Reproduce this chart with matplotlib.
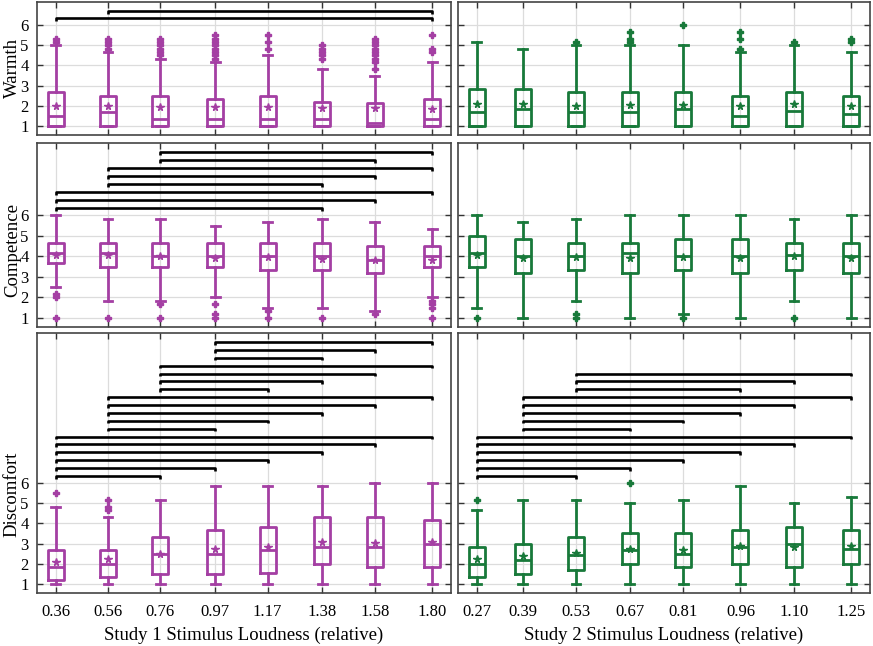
import numpy as np
import matplotlib
matplotlib.use('Agg')
import matplotlib.pyplot as plt

plt.rcParams['font.family'] = ['Liberation Serif', 'DejaVu Serif']

# stimulus loudness levels
study1_x = [0.36, 0.56, 0.76, 0.97, 1.17, 1.38, 1.58, 1.80]
study2_x = [0.27, 0.39, 0.53, 0.67, 0.81, 0.96, 1.10, 1.25]

# box summaries: (whisker low, q1, median, q3, whisker high)
warmth1_box = [(1, 1, 1.5, 2.67, 5.0), (1, 1, 1.67, 2.5, 4.67), (1, 1, 1.33, 2.47, 4.33),
               (1, 1, 1.33, 2.33, 4.17), (1, 1, 1.33, 2.47, 4.5), (1, 1, 1.33, 2.17, 3.83),
               (1, 1, 1.17, 2.13, 3.5), (1, 1, 1.33, 2.33, 4.17)]
warmth1_mean = [2.0, 2.0, 1.93, 1.93, 1.92, 1.89, 1.89, 1.85]
warmth1_fliers = [[5.17, 5.33], [4.83, 5.0, 5.17, 5.33], [4.5, 4.67, 4.83, 5.0, 5.17, 5.33],
                  [4.33, 4.5, 4.67, 4.83, 5.0, 5.17, 5.33, 5.5], [4.83, 5.17, 5.5],
                  [4.33, 4.5, 4.67, 4.83, 5.0],
                  [3.83, 4.17, 4.33, 4.5, 4.67, 4.83, 5.0, 5.17, 5.33], [4.67, 4.83, 5.5]]

warmth2_box = [(1, 1, 1.67, 2.83, 5.17), (1, 1, 1.83, 2.83, 4.83), (1, 1, 1.67, 2.67, 5.0),
               (1, 1, 1.67, 2.67, 5.0), (1, 1, 1.83, 2.67, 5.0), (1, 1, 1.5, 2.5, 4.67),
               (1, 1, 1.75, 2.67, 5.0), (1, 1, 1.58, 2.5, 4.67)]
warmth2_mean = [2.08, 2.08, 2.0, 2.03, 2.04, 2.0, 2.08, 2.0]
warmth2_fliers = [[], [], [5.17], [5.17, 5.33, 5.67], [6.0], [4.83, 5.33, 5.67], [5.17], [5.17, 5.33]]

competence1_box = [(2.5, 3.67, 4.17, 4.63, 6.0), (1.83, 3.5, 4.17, 4.67, 5.83),
                   (1.83, 3.5, 4.03, 4.67, 5.83), (2.0, 3.5, 4.0, 4.63, 5.5),
                   (1.5, 3.35, 4.0, 4.67, 5.67), (1.5, 3.33, 4.0, 4.67, 5.83),
                   (1.33, 3.2, 3.83, 4.5, 5.67), (2.0, 3.5, 4.0, 4.5, 5.33)]
competence1_mean = [4.08, 4.05, 4.02, 3.93, 3.98, 3.87, 3.82, 3.82]
competence1_fliers = [[2.0, 2.17, 1.0], [1.0], [1.67, 1.0], [1.67, 1.17, 1.0], [1.33, 1.0],
                      [1.0], [1.17], [1.83, 1.67, 1.5, 1.0]]

competence2_box = [(1.5, 3.5, 4.17, 5.0, 6.0), (1.0, 3.17, 4.0, 4.83, 5.67),
                   (1.83, 3.33, 4.0, 4.67, 5.83), (1.0, 3.17, 4.17, 4.67, 6.0),
                   (1.17, 3.33, 4.0, 4.83, 6.0), (1.0, 3.17, 4.0, 4.83, 6.0),
                   (1.83, 3.33, 4.08, 4.67, 5.83), (1.0, 3.17, 4.0, 4.67, 6.0)]
competence2_mean = [4.05, 3.93, 3.97, 3.93, 3.97, 3.9, 4.02, 3.9]
competence2_fliers = [[1.0], [], [1.17, 1.0], [], [1.0], [], [1.0], []]

discomfort1_box = [(1.0, 1.17, 1.83, 2.67, 4.83), (1.0, 1.33, 2.0, 2.67, 4.33),
                   (1.0, 1.5, 2.5, 3.33, 5.17), (1.0, 1.5, 2.5, 3.67, 5.83),
                   (1.0, 1.56, 2.67, 3.83, 5.83), (1.0, 2.0, 2.83, 4.33, 5.83),
                   (1.0, 1.83, 2.83, 4.33, 6.0), (1.0, 1.83, 3.0, 4.17, 6.0)]
discomfort1_mean = [2.08, 2.25, 2.49, 2.72, 2.83, 3.08, 3.04, 3.08]
discomfort1_fliers = [[5.5], [4.67, 4.83, 5.17], [], [], [], [], [], []]

discomfort2_box = [(1.0, 1.33, 2.0, 2.83, 4.67), (1.0, 1.5, 2.17, 3.0, 5.17),
                   (1.0, 1.67, 2.42, 3.33, 5.17), (1.0, 2.0, 2.67, 3.5, 5.0),
                   (1.0, 1.83, 2.5, 3.5, 5.17), (1.0, 2.0, 2.83, 3.67, 5.83),
                   (1.0, 1.83, 3.0, 3.83, 5.0), (1.0, 2.0, 2.75, 3.67, 5.33)]
discomfort2_mean = [2.21, 2.37, 2.55, 2.72, 2.68, 2.88, 2.83, 2.86]
discomfort2_fliers = [[5.17], [], [], [6.0], [], [], [], []]

# significant pairs (indices into the loudness levels)
warmth1_pairs = [(0, 7), (1, 7)]
warmth2_pairs = []
competence1_pairs = [(0, 5), (0, 6), (0, 7), (1, 5), (1, 6), (1, 7), (2, 6), (2, 7)]
competence2_pairs = []
discomfort1_pairs = [(0, 2), (0, 3), (0, 4), (0, 5), (0, 6), (0, 7), (1, 3), (1, 4), (1, 5),
                     (1, 6), (1, 7), (2, 4), (2, 5), (2, 6), (2, 7), (3, 5), (3, 6), (3, 7)]
discomfort2_pairs = [(0, 2), (0, 3), (0, 4), (0, 5), (0, 6), (0, 7), (1, 3), (1, 4), (1, 5),
                     (1, 6), (1, 7), (2, 5), (2, 6), (2, 7)]

row_labels = ['Warmth', 'Competence', 'Discomfort']
xlabels = ['Study 1 Stimulus Loudness (relative)', 'Study 2 Stimulus Loudness (relative)']

purple = '#a43fa3'
green = '#18793a'

rows = [
    [(warmth1_box, warmth1_mean, warmth1_fliers, warmth1_pairs),
     (warmth2_box, warmth2_mean, warmth2_fliers, warmth2_pairs)],
    [(competence1_box, competence1_mean, competence1_fliers, competence1_pairs),
     (competence2_box, competence2_mean, competence2_fliers, competence2_pairs)],
    [(discomfort1_box, discomfort1_mean, discomfort1_fliers, discomfort1_pairs),
     (discomfort2_box, discomfort2_mean, discomfort2_fliers, discomfort2_pairs)],
]
bracket_step = [0.35, 0.39, 0.39]
ylabel_ypos = [0.5, 0.42, 0.38]

W, H = 873, 646
fig = plt.figure(figsize=(W / 100, H / 100), dpi=100)
col_px = [(37, 451), (458, 870)]
row_px = [(2, 135), (143, 327), (333, 593)]

for r in range(3):
    n_pairs = max(len(rows[r][0][3]), len(rows[r][1][3]))
    ytop = 6.35 + (n_pairs - 1) * bracket_step[r] + 0.45
    for c in range(2):
        box, mean, fliers, pairs = rows[r][c]
        xs = study1_x if c == 0 else study2_x
        color = purple if c == 0 else green
        x0, x1 = col_px[c]
        y0, y1 = row_px[r]
        ax = fig.add_axes([x0 / W, 1 - y1 / H, (x1 - x0) / W, (y1 - y0) / H])
        span = xs[-1] - xs[0]
        width = 16 / (x1 - x0) * (span * 1.1)
        stats = []
        for b, m, f in zip(box, mean, fliers):
            stats.append(dict(whislo=b[0], q1=b[1], med=b[2], q3=b[3], whishi=b[4],
                              mean=m, fliers=f))
        ax.bxp(stats, positions=xs, widths=width, capwidths=width * 0.55,
               showmeans=True, manage_ticks=False,
               boxprops=dict(color=color, lw=2),
               whiskerprops=dict(color=color, lw=2),
               capprops=dict(color=color, lw=2),
               medianprops=dict(color=color, lw=2),
               meanprops=dict(marker='*', markerfacecolor=color, markeredgecolor=color,
                              markersize=5.5),
               flierprops=dict(marker='P', markerfacecolor=color, markeredgecolor=color,
                               markersize=5))
        tick_h = 0.13
        for k, (i, j) in enumerate(pairs):
            yb = 6.35 + k * bracket_step[r]
            ax.plot([xs[i], xs[i], xs[j], xs[j]], [yb - tick_h, yb, yb, yb - tick_h],
                    color='black', lw=1.9, solid_capstyle='butt')
        ax.set_xlim(xs[0] - 0.05 * span, xs[-1] + 0.05 * span)
        ax.set_ylim(0.55, ytop)
        ax.set_xticks(xs)
        ax.set_yticks([1, 2, 3, 4, 5, 6])
        ax.set_axisbelow(True)
        ax.grid(True, color='#dcdcdc', lw=0.9)
        ax.tick_params(direction='in', top=True, right=True, length=4, width=1,
                       color='#333333', labelsize=12)
        ax.tick_params(axis='y', pad=6)
        ax.tick_params(axis='x', pad=8)
        for s in ax.spines.values():
            s.set_color('#444444')
            s.set_linewidth(1.2)
        if c == 0:
            ax.set_ylabel(row_labels[r], fontsize=13.5)
            ax.yaxis.set_label_coords(-0.039, ylabel_ypos[r])
        else:
            ax.set_yticklabels([])
        if r == 2:
            ax.set_xticklabels(['%.2f' % v for v in xs])
            ax.set_xlabel(xlabels[c], fontsize=13.5, labelpad=5)
        else:
            ax.set_xticklabels([])

fig.savefig('out.png', dpi=100)
